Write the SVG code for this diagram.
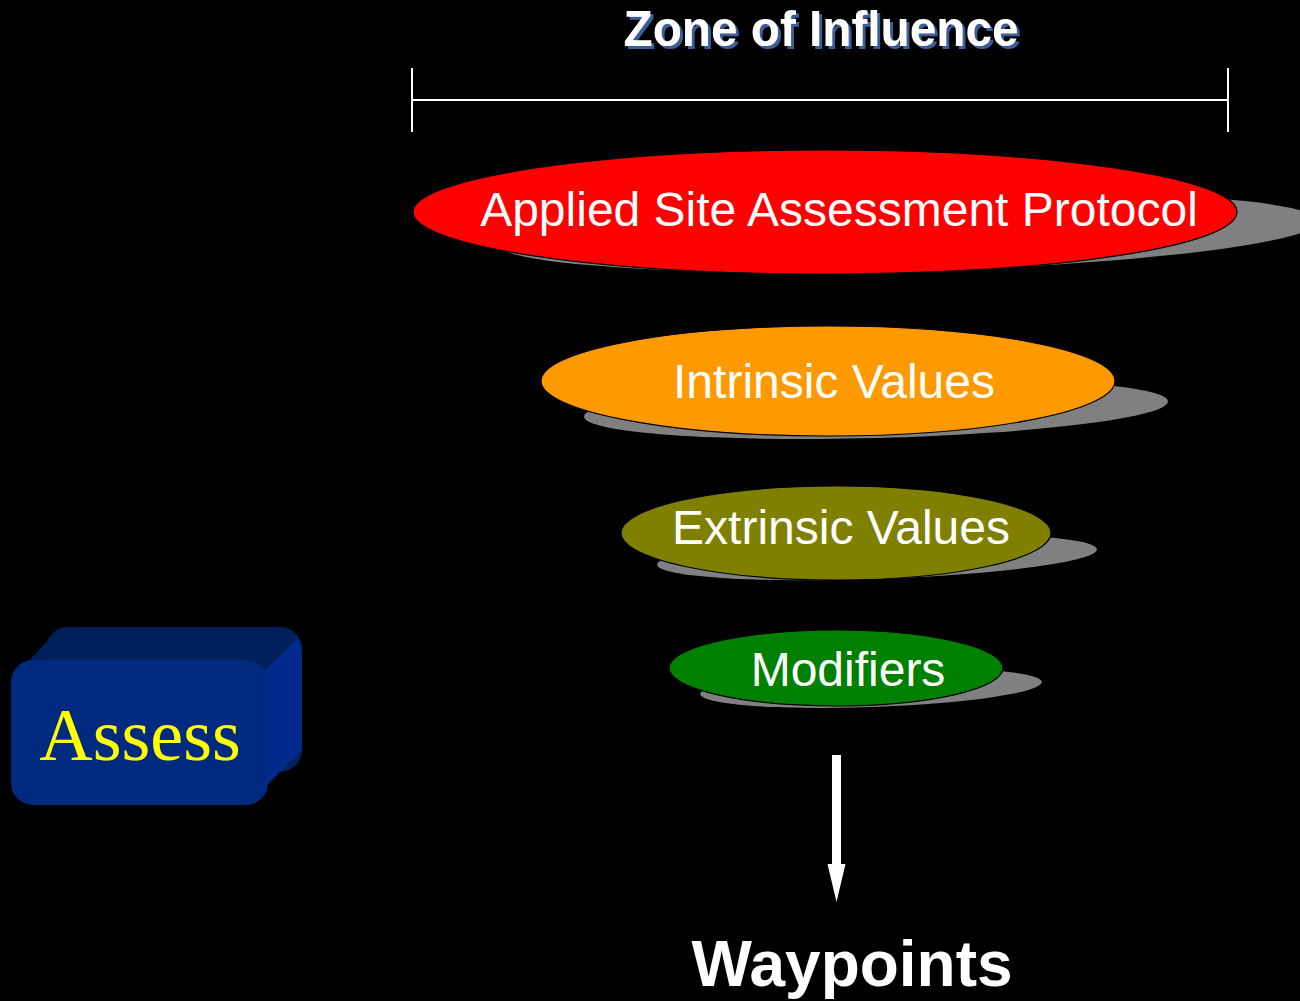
<svg xmlns="http://www.w3.org/2000/svg" width="1300" height="1001" viewBox="0 0 1300 1001">
<defs>
<style>
.lbl{font-family:"Liberation Sans",Arial,sans-serif;font-size:48px;fill:#ffffff;text-anchor:middle}
.sh{fill:#808080}
.el{stroke:#000000;stroke-width:1.2}
.title{font-family:"Liberation Sans",Arial,sans-serif;font-weight:bold;font-size:50px;text-anchor:middle;fill:#ffffff}
</style>
<filter id="tshadow" x="-5%" y="-20%" width="110%" height="150%">
<feFlood flood-color="#3b5d9a" result="c"/>
<feComposite in="c" in2="SourceAlpha" operator="in" result="s"/>
<feOffset in="s" dx="3" dy="3" result="o"/>
<feMerge><feMergeNode in="o"/><feMergeNode in="SourceGraphic"/></feMerge>
</filter>
</defs>
<rect x="0" y="0" width="1300" height="1001" fill="#000000"/>
<g id="title">
<text class="title" x="821" y="46" textLength="395" lengthAdjust="spacingAndGlyphs" filter="url(#tshadow)">Zone of Influence</text>
</g>
<g id="zone-bracket" stroke="#ffffff" stroke-width="2" fill="none">
<line x1="412" y1="100" x2="1228" y2="100"/>
<line x1="412" y1="68" x2="412" y2="132"/>
<line x1="1228" y1="68" x2="1228" y2="132"/>
</g>
<g id="node-protocol">
<ellipse class="sh" cx="906" cy="232" rx="412" ry="39" transform="rotate(-1.5 906 232)"/>
<ellipse class="el" cx="825" cy="212" rx="412" ry="62" fill="#ff0000"/>
<text class="lbl" x="839" y="226">Applied Site Assessment Protocol</text>
</g>
<g id="node-intrinsic">
<ellipse class="sh" cx="876" cy="409" rx="292" ry="29" transform="rotate(-1.5 876 409)"/>
<ellipse class="el" cx="828" cy="381" rx="287" ry="55" fill="#ff9900"/>
<text class="lbl" x="834" y="398">Intrinsic Values</text>
</g>
<g id="node-extrinsic">
<ellipse class="sh" cx="877" cy="557" rx="220" ry="22" transform="rotate(-2 877 557)"/>
<ellipse class="el" cx="836" cy="533" rx="215" ry="47" fill="#808000"/>
<text class="lbl" x="841" y="544">Extrinsic Values</text>
</g>
<g id="node-modifiers">
<ellipse class="sh" cx="871" cy="688" rx="171" ry="19" transform="rotate(-2 871 688)"/>
<ellipse class="el" cx="836" cy="668" rx="167" ry="38" fill="#008000"/>
<text class="lbl" x="848" y="686">Modifiers</text>
</g>
<g id="connectors">
<rect x="832" y="755" width="9" height="110" fill="#ffffff"/>
<polygon points="827.5,864 845.5,864 836.5,902" fill="#ffffff"/>
</g>
<g id="node-waypoints">
<text x="852" y="986" font-family="Liberation Sans, Arial, sans-serif" font-weight="bold" font-size="64" fill="#ffffff" text-anchor="middle">Waypoints</text>
</g>
<g id="node-assess">
<rect x="46" y="627" width="256" height="145" rx="22" fill="#00205c"/>
<polygon points="22,668 56,632 292,632 258,668" fill="#00205c"/>
<polygon points="263,672 298,638 302,650 302,750 267,785" fill="#002a8c"/>
<rect x="11" y="660" width="257" height="145" rx="22" fill="#002a80"/>
<text x="140" y="760" font-family="Liberation Serif, 'Times New Roman', serif" font-size="74" fill="#ffff00" text-anchor="middle">Assess</text>
</g>
</svg>
